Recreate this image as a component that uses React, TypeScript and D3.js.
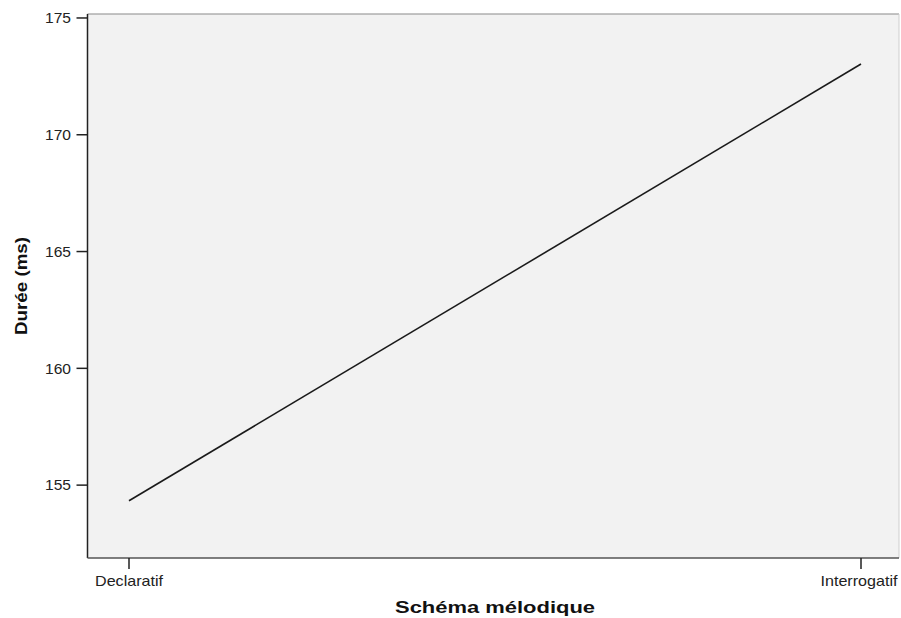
import React from "react";
import * as d3 from "d3";

const categories = ["Declaratif", "Interrogatif"];
const durations = [154.33, 173.03];
const yTicks = [155, 160, 165, 170, 175];

const W = 901;
const H = 618;
const plot = { left: 87.5, top: 14, right: 899, bottom: 558 };

export default function App() {
  const x = d3.scalePoint<string>().domain(categories).range([129, 861]);
  const y = d3.scaleLinear().domain([151.88, 175.17]).range([plot.bottom, plot.top]);
  const line = d3
    .line<number>()
    .x((_, i) => x(categories[i]) as number)
    .y((d) => y(d));
  const font = "'Liberation Sans', Arial, sans-serif";
  return (
    <svg width={W} height={H} style={{ position: "absolute", left: 0, top: 0, background: "#fff" }}>
      <rect x={plot.left} y={plot.top} width={plot.right - plot.left} height={plot.bottom - plot.top} fill="#f2f2f2" />
      <line x1={plot.left} x2={plot.right} y1={plot.top} y2={plot.top} stroke="#8a8a8a" strokeWidth={1.2} />
      <line x1={plot.right} x2={plot.right} y1={plot.top} y2={plot.bottom} stroke="#cfcfcf" strokeWidth={1} />
      <line x1={plot.left} x2={plot.left} y1={plot.top} y2={plot.bottom} stroke="#222" strokeWidth={1.5} />
      <line x1={plot.left} x2={plot.right} y1={plot.bottom} y2={plot.bottom} stroke="#555" strokeWidth={1.5} />
      {yTicks.map((t) => (
        <g key={t}>
          <line x1={plot.left - 11} x2={plot.left} y1={y(t)} y2={y(t)} stroke="#222" strokeWidth={1.5} />
          <text
            x={71}
            y={y(t)}
            dy="0.36em"
            textAnchor="end"
            fontFamily={font}
            fontSize={14.5}
            fill="#222"
            textLength={26}
            lengthAdjust="spacingAndGlyphs"
          >
            {t}
          </text>
        </g>
      ))}
      {categories.map((c, i) => (
        <g key={c}>
          <line x1={x(c)} x2={x(c)} y1={plot.bottom} y2={plot.bottom + 11} stroke="#222" strokeWidth={1.5} />
          <text
            x={(x(c) as number) + (i === categories.length - 1 ? -2 : 0)}
            y={586}
            textAnchor="middle"
            fontFamily={font}
            fontSize={15}
            fill="#222"
            textLength={i === 0 ? 68 : 77}
            lengthAdjust="spacingAndGlyphs"
          >
            {c}
          </text>
        </g>
      ))}
      <path d={line(durations) || ""} fill="none" stroke="#1a1a1a" strokeWidth={1.6} />
      <text
        transform={`translate(27,286) rotate(-90)`}
        textAnchor="middle"
        fontFamily={font}
        fontWeight="bold"
        fontSize={17}
        fill="#111"
        textLength={98}
        lengthAdjust="spacingAndGlyphs"
      >
        Durée (ms)
      </text>
      <text
        x={495}
        y={613}
        textAnchor="middle"
        fontFamily={font}
        fontWeight="bold"
        fontSize={17}
        fill="#111"
        textLength={200}
        lengthAdjust="spacingAndGlyphs"
      >
        Schéma mélodique
      </text>
    </svg>
  );
}
